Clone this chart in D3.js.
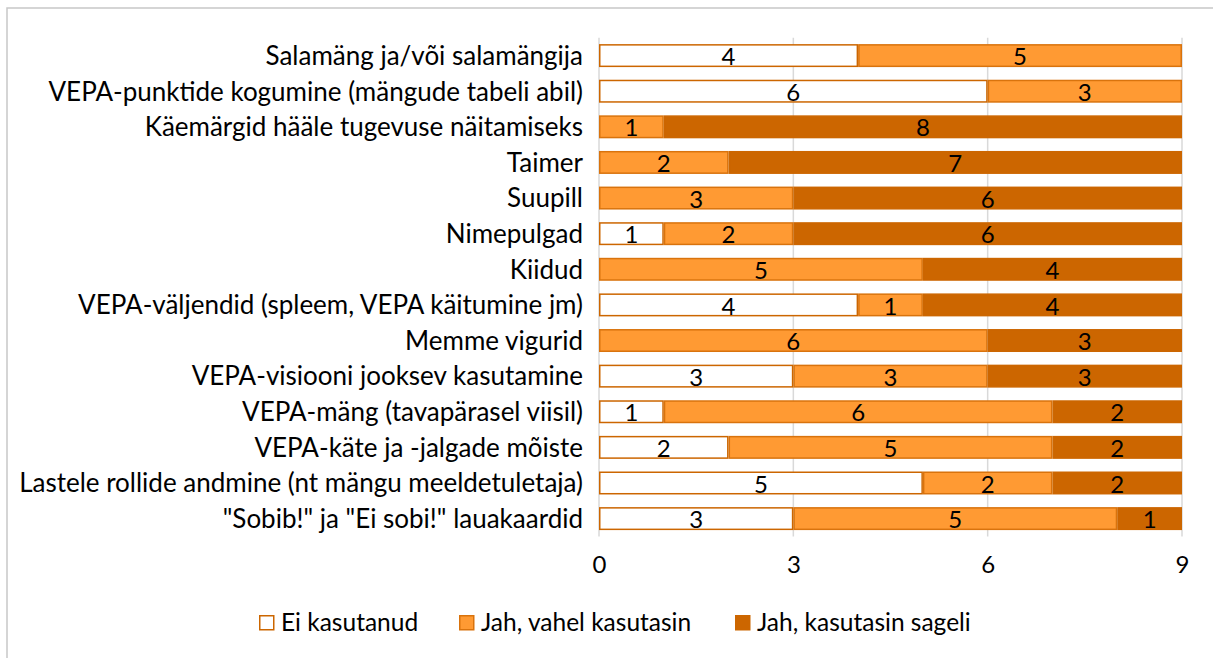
<!DOCTYPE html>
<html>
<head>
<meta charset="utf-8">
<script src="https://cdn.jsdelivr.net/npm/d3@7"></script>
<style>
  body { margin: 0; background: #fff; }
  text { font-family: Lato, "Noto Sans", sans-serif; fill: #000; }
</style>
</head>
<body>
<svg id="chart"></svg>
<script>
// data
var categories = [
  'Salamäng ja/või salamängija',
  'VEPA-punktide kogumine (mängude tabeli abil)',
  'Käemärgid hääle tugevuse näitamiseks',
  'Taimer',
  'Suupill',
  'Nimepulgad',
  'Kiidud',
  'VEPA-väljendid (spleem, VEPA käitumine jm)',
  'Memme vigurid',
  'VEPA-visiooni jooksev kasutamine',
  'VEPA-mäng (tavapärasel viisil)',
  'VEPA-käte ja -jalgade mõiste',
  'Lastele rollide andmine (nt mängu meeldetuletaja)',
  '"Sobib!" ja "Ei sobi!" lauakaardid'
];
var eiKasutanud   = [4, 6, 0, 0, 0, 1, 0, 4, 0, 3, 1, 2, 5, 3];
var vahelKasutasin = [5, 3, 1, 2, 3, 2, 5, 1, 6, 3, 6, 5, 2, 5];
var sageliKasutasin = [0, 0, 8, 7, 6, 6, 4, 4, 3, 3, 2, 2, 2, 1];
var seriesNames = ['Ei kasutanud', 'Jah, vahel kasutasin', 'Jah, kasutasin sageli'];
var xTicks = [0, 3, 6, 9];

var width = 1213, height = 658;
var fills = ['#ffffff', '#ff9a33', '#cc6600'];
var strokes = ['#cc6600', '#d9730d', '#cc6600'];

var svg = d3.select('#chart')
  .attr('width', width)
  .attr('height', height);

// chart frame
svg.append('rect')
  .attr('x', 7).attr('y', 8)
  .attr('width', 1230).attr('height', 700)
  .attr('fill', 'none')
  .attr('stroke', '#c8c8c8')
  .attr('stroke-width', 1.5);

var x = d3.scaleLinear().domain([0, 9]).range([599, 1182]);
var y = d3.scaleBand().domain(categories).range([37.7, 536.5]).paddingInner(0.355).paddingOuter(0.18);

// stack the three series
var rows = categories.map(function(c, i) {
  return { cat: c, s0: eiKasutanud[i], s1: vahelKasutasin[i], s2: sageliKasutasin[i] };
});
var stack = d3.stack().keys(['s0', 's1', 's2']);
var stacked = stack(rows);

// gridlines
svg.append('g')
  .selectAll('line')
  .data(xTicks)
  .enter()
  .append('line')
    .attr('x1', function(d) { return x(d); })
    .attr('x2', function(d) { return x(d); })
    .attr('y1', 37.7)
    .attr('y2', 536.5)
    .attr('stroke', '#d9d9d9')
    .attr('stroke-width', 1.5);

// bars
var layer = svg.selectAll('g.layer')
  .data(stacked)
  .enter()
  .append('g')
    .attr('class', 'layer');

layer.selectAll('rect')
  .data(function(d, k) { return d.map(function(p) { return { p: p, k: k }; }); })
  .enter()
  .filter(function(d) { return d.p[1] - d.p[0] > 0; })
  .append('rect')
    .attr('x', function(d) { return x(d.p[0]) + 0.75; })
    .attr('y', function(d) { return y(d.p.data.cat) + 0.75; })
    .attr('width', function(d) { return x(d.p[1]) - x(d.p[0]) - 1.5; })
    .attr('height', y.bandwidth() - 1.5)
    .attr('fill', function(d) { return fills[d.k]; })
    .attr('stroke', function(d) { return strokes[d.k]; })
    .attr('stroke-width', 1.5);

// value labels
layer.selectAll('text')
  .data(function(d) { return d.filter(function(p) { return p[1] - p[0] > 0; }); })
  .enter()
  .append('text')
    .attr('x', function(d) { return (x(d[0]) + x(d[1])) / 2; })
    .attr('y', function(d) { return y(d.data.cat) + y.bandwidth() / 2 + 1; })
    .attr('dy', '0.36em')
    .attr('text-anchor', 'middle')
    .style('font-size', '24px')
    .text(function(d) { return d[1] - d[0]; });

// category labels
svg.append('g')
  .selectAll('text')
  .data(categories)
  .enter()
  .append('text')
    .attr('x', 583)
    .attr('y', function(d) { return y(d) + y.bandwidth() / 2; })
    .attr('dy', '0.36em')
    .attr('text-anchor', 'end')
    .style('font-size', '26px')
    .text(function(d) { return d; });

// x axis
var xAxis = svg.append('g')
  .attr('transform', 'translate(0,' + 556 + ')')
  .call(d3.axisBottom(x).tickValues(xTicks).tickSize(0).tickPadding(0));
xAxis.select('.domain').remove();
xAxis.selectAll('text')
  .style('font-size', '24px')
  .style('font-family', 'Lato, "Noto Sans", sans-serif');

// legend
var legendX = [259, 459, 735];
var legend = svg.append('g')
  .selectAll('g')
  .data(seriesNames)
  .enter()
  .append('g')
    .attr('transform', function(d, i) { return 'translate(' + legendX[i] + ',615)'; });
legend.append('rect')
  .attr('x', 0.75).attr('y', 0.75)
  .attr('width', 14).attr('height', 14)
  .attr('fill', function(d, i) { return fills[i]; })
  .attr('stroke', function(d, i) { return strokes[i]; })
  .attr('stroke-width', 1.5);
legend.append('text')
  .attr('x', 22)
  .attr('y', 7.5)
  .attr('dy', '0.36em')
  .style('font-size', '24.5px')
  .text(function(d) { return d; });
</script>
</body>
</html>
